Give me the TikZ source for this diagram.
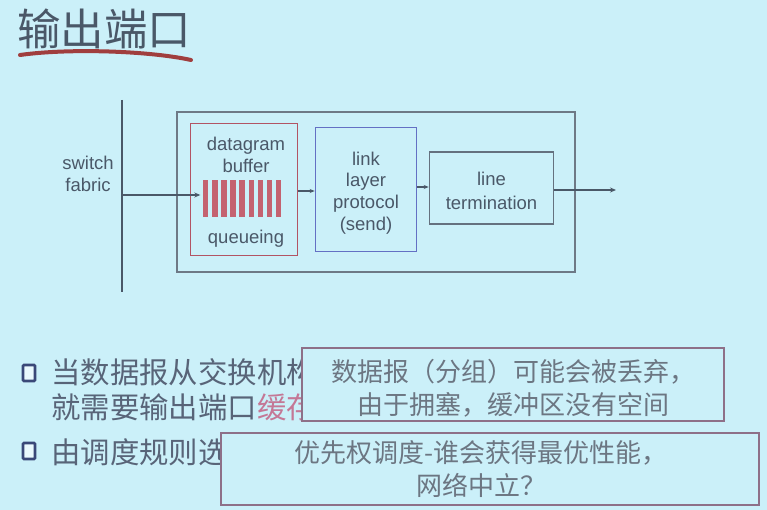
\documentclass[tikz,border=0pt]{standalone}
\usepackage{fontspec}
\setmainfont{Liberation Sans}
\newfontfamily\cjk{Noto Sans CJK SC}
\usetikzlibrary{arrows.meta}

\definecolor{slidebg}{RGB}{203,240,249}
\definecolor{ink}{RGB}{74,88,104}
\definecolor{textgray}{RGB}{88,100,120}
\definecolor{notegray}{RGB}{108,118,130}
\definecolor{bufred}{RGB}{178,84,100}
\definecolor{barred}{RGB}{196,98,112}
\definecolor{linkblue}{RGB}{100,112,196}
\definecolor{notepurple}{RGB}{142,112,136}
\definecolor{penred}{RGB}{160,62,62}
\definecolor{hilite}{RGB}{196,120,150}
\definecolor{bulletblue}{RGB}{58,72,120}

\tikzset{
  diagtext/.style={text=ink, align=center, font=\fontsize{18.5}{22}\selectfont},
  unitbox/.style={draw, line width=1.6pt, inner sep=0pt},
  flow/.style={draw=ink, line width=1.3pt, -{Stealth[length=6pt,width=5pt]}},
  notebox/.style={draw=notepurple, line width=2pt, fill=slidebg, inner sep=0pt},
  notetext/.style={text=notegray, align=center, font=\cjk\fontsize{26}{33}\selectfont},
  bullettext/.style={text=textgray, anchor=west, inner sep=0pt, font=\cjk\fontsize{29.4}{36}\selectfont},
  bulletbox/.style={draw=bulletblue, line width=2.8pt, rounded corners=1pt, fill=white!60!slidebg, minimum width=12pt, minimum height=16pt, inner sep=0pt}
}

\begin{document}
\begin{tikzpicture}[x=1pt,y=-1pt]
  % background
  \fill[slidebg] (0,0) rectangle (767,510);
  \useasboundingbox (0,0) rectangle (767,510);

  % heading with a hand-drawn underline
  \node[anchor=west, inner sep=0pt, text=ink, font=\cjk\fontsize{43.5}{48}\selectfont] (title) at (17,29) {输出端口};
  \draw[penred, line width=4pt, line cap=round] (20,55) .. controls (70,48) and (150,51) .. (191,60);

  % switch fabric
  \coordinate (fabtop) at (122,100);
  \coordinate (fabbot) at (122,292);
  \coordinate (fabout) at (122,195);
  \draw[ink, line width=2pt] (fabtop) -- (fabbot);
  \node[diagtext] (fablabel) at (88,174) {switch\\fabric};

  % output port enclosure
  \node[draw=ink!80, line width=1.2pt, inner sep=0pt, minimum width=398pt, minimum height=160pt] (port) at (376,192) {};

  % datagram buffer
  \node[unitbox, draw=bufred, minimum width=107pt, minimum height=132pt] (buf) at (244,189.5) {};
  \node[diagtext] (buftop) at (246,155) {datagram\\buffer};
  \node[diagtext] (bufbot) at (246,239) {queueing};
  \node[inner sep=0pt, minimum width=81pt, minimum height=37pt] (bars) at (243.5,198.5) {};
  \foreach \i in {0,...,8}
    \fill[barred] (203+\i*9.1,180) rectangle ++(5.4,37);

  % link layer protocol
  \node[unitbox, draw=linkblue, minimum width=101pt, minimum height=124pt] (link) at (366,189.5) {};
  \node[diagtext, font=\fontsize{18.5}{21.7}\selectfont] (linktext) at (366,193) {link\\layer\\protocol\\(send)};

  % line termination
  \node[unitbox, draw=ink!85, minimum width=124pt, minimum height=72pt] (term) at (491.5,188) {};
  \node[diagtext, font=\fontsize{18.5}{24}\selectfont] (termtext) at (491.5,190.5) {line\\termination};
  \coordinate (portout) at (616,190);

  % data path
  \draw[flow, shorten >=2.5pt] (fabout) -- (bars.west |- fabout);
  \draw[flow, -{Stealth[length=5pt,width=4pt]}] (buf.east |- 0,191) -- (link.west |- 0,191);
  \draw[flow, -{Stealth[length=5pt,width=4pt]}] (link.east |- 0,187) -- (term.west |- 0,187);
  \draw[flow] (term.east |- portout) -- (portout);

  % bullet points
  \node[bulletbox] (b1) at (29,373) {};
  \node[bullettext] (l1) at (51,372) {当数据报从交换机构};
  \node[bullettext] (l2) at (51,407) {就需要输出端口\textcolor{hilite}{缓存}};
  \node[bulletbox] (b2) at (29,451) {};
  \node[bullettext] (l3) at (51,452) {由调度规则选择};

  % callouts laid over the bullets
  \node[notebox, minimum width=422pt, minimum height=73pt] (note1) at (513,384) {};
  \node[notetext] (note1text) at (513,388) {数据报（分组）可能会被丢弃，\\由于拥塞，缓冲区没有空间};
  \node[notebox, minimum width=538pt, minimum height=72pt] (note2) at (490,469) {};
  \node[notetext] (note2text) at (481,469) {优先权调度-谁会获得最优性能，\\网络中立？};
\end{tikzpicture}
\end{document}
